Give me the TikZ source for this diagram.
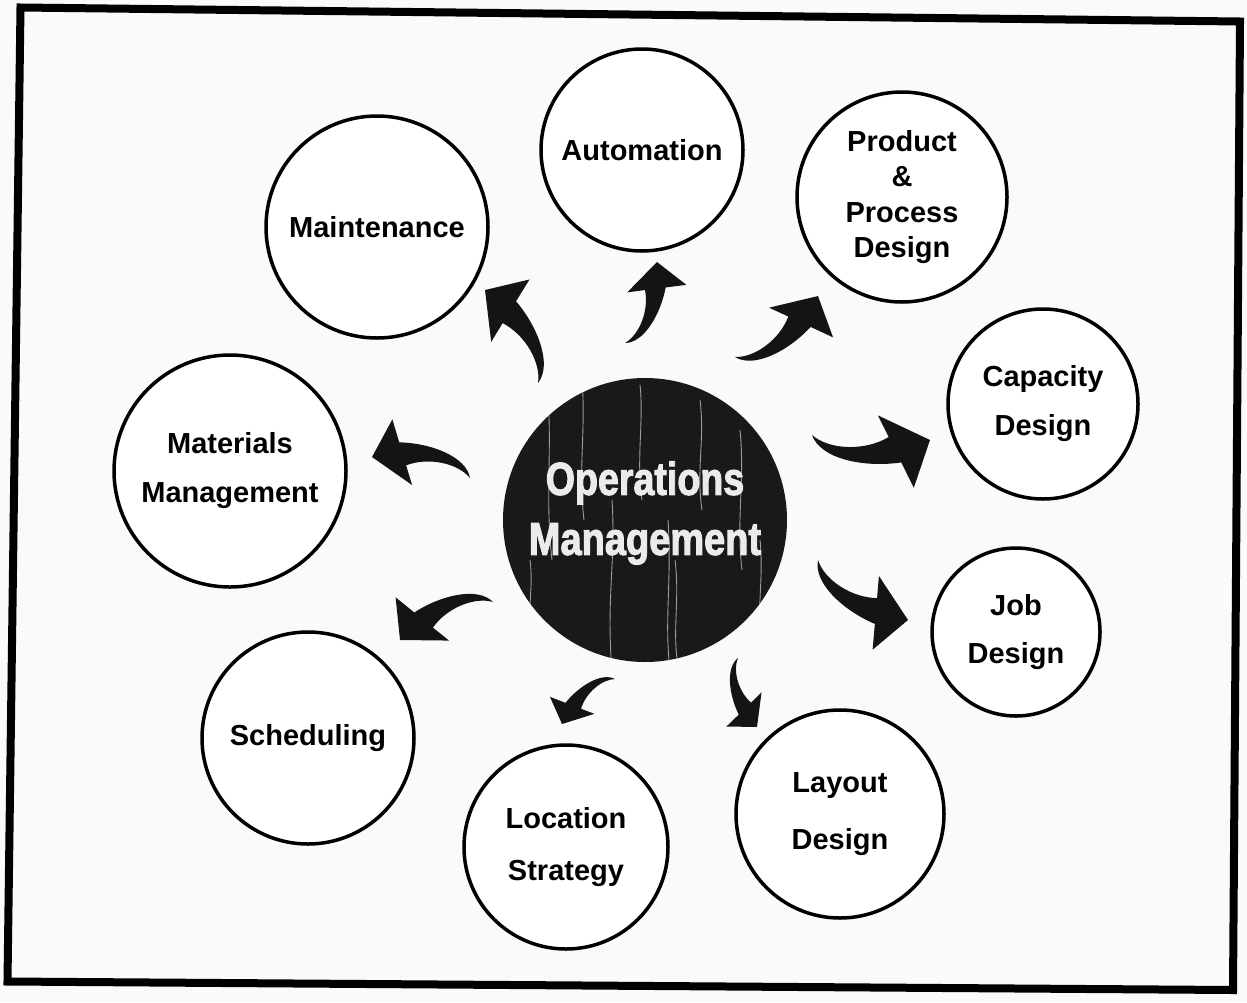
\documentclass[tikz,border=0pt]{standalone}
\usepackage{fontspec}
\setmainfont{Liberation Sans}
\newfontfamily\heavyfont{Liberation Sans Bold}[FakeBold=2.5]
\usetikzlibrary{calc}
\tikzset{
  topic/.style={circle, draw=black, line width=3.5pt, fill=white, inner sep=0pt,
    align=center, text=black, font=\bfseries\fontsize{29}{49}\selectfont},
  arrowshape/.style={fill=black!92},
  streak/.style={draw=white!75!black, line width=0.9pt, opacity=0.8},
}
% curved tapered arrow from tail (#1,#2) to tip (#3,#4), image coordinates
\newcommand\carrow[4]{%
  \pgfmathsetmacro\carang{atan2(#2-#4,#3-#1)-90}%
  \pgfmathsetmacro\carlen{veclen(#3-#1,#4-#2)/100}%
  \fill[arrowshape, shift={(#1,-#2)}, rotate=\carang, scale=\carlen]
    (0,0) .. controls (20,8) and (26,45) .. (20,76.5) -- (41,88) -- (0,100)
    -- (-19,55) -- (-1,65) .. controls (12,45) and (12,15) .. (0,0) -- cycle;}
\begin{document}
\begin{tikzpicture}[x=1pt,y=1pt]
\useasboundingbox (0,-1002) rectangle (1247,0);
\fill[black!2] (0,-1002) rectangle (1247,0);
% frame
\draw[line width=8pt, line join=miter] (20.5,-7.5) -- (1240,-21.5) -- (1233,-990) -- (7.5,-981.5) -- cycle;

% centre
\node[circle, fill=black!90, minimum size=284, inner sep=0pt] (om) at (645,-520) {};
\begin{scope}
  \clip (om.center) circle (142);
  \draw[streak] (548,-400) .. controls (552,-450) and (545,-500) .. (552,-560);
  \draw[streak] (582,-380) .. controls (586,-430) and (578,-470) .. (584,-520);
  \draw[streak] (612,-500) .. controls (616,-560) and (606,-600) .. (612,-670);
  \draw[streak] (640,-385) .. controls (644,-420) and (636,-460) .. (642,-500);
  \draw[streak] (668,-520) .. controls (672,-580) and (664,-620) .. (670,-670);
  \draw[streak] (675,-560) .. controls (680,-600) and (672,-630) .. (678,-665);
  \draw[streak] (700,-400) .. controls (705,-440) and (696,-470) .. (702,-510);
  \draw[streak] (740,-430) .. controls (745,-480) and (736,-520) .. (742,-570);
  \draw[streak] (760,-540) .. controls (764,-580) and (756,-610) .. (762,-640);
  \draw[streak] (530,-560) .. controls (534,-590) and (526,-610) .. (532,-640);
\end{scope}
\node[text=white!92!black, align=center, inner sep=0pt,
      font=\heavyfont\fontsize{40}{60}\selectfont] (omtext) at (645,-513)
  {\scalebox{0.94}[1.15]{Operations}\\\scalebox{0.95}[1.15]{Management}};

% topics
\node[topic, minimum size=222] (maint) at (377,-227) {Maintenance};
\node[topic, minimum size=202] (auto) at (642,-150) {Automation};
\node[topic, minimum size=210, font=\bfseries\fontsize{29}{35.3}\selectfont] (prod) at (902,-197) {Product\\\&\\Process\\Design};
\node[topic, minimum size=190] (cap) at (1043,-404) {Capacity\\Design};
\node[topic, minimum size=168, font=\bfseries\fontsize{29}{48}\selectfont] (job) at (1016,-632) {Job\\Design};
\node[topic, minimum size=208, font=\bfseries\fontsize{29}{57}\selectfont] (layout) at (840,-814) {Layout\\Design};
\node[topic, minimum size=204, font=\bfseries\fontsize{29}{52}\selectfont] (loc) at (566,-847) {Location\\Strategy};
\node[topic, minimum size=212] (sched) at (308,-738) {Scheduling};
\node[topic, minimum size=232] (mat) at (230,-471) {Materials\\Management};

% arrows (tail x,y ; tip x,y) in image coordinates
\carrow{538}{383}{485}{290}
\carrow{625}{343}{657}{262}
\carrow{735}{357}{818}{296}
\carrow{812}{435}{930}{440}
\carrow{818}{560}{908}{620}
\carrow{738}{658}{757}{727}
\carrow{615}{679}{562}{724}
\carrow{493}{602}{400}{640}
\carrow{470}{478}{372}{457}
\end{tikzpicture}
\end{document}
